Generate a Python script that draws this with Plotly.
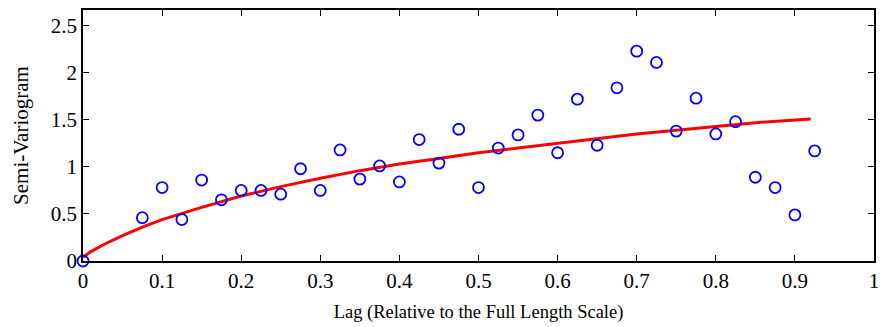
import plotly.graph_objects as go

# Empirical semi-variogram points
lag = [0, 0.075, 0.1, 0.125, 0.15, 0.175, 0.2, 0.225, 0.25, 0.275, 0.3, 0.325,
       0.35, 0.375, 0.4, 0.425, 0.45, 0.475, 0.5, 0.525, 0.55, 0.575, 0.6,
       0.625, 0.65, 0.675, 0.7, 0.725, 0.75, 0.775, 0.8, 0.825, 0.85, 0.875,
       0.9, 0.925]
semivar = [0.0, 0.46, 0.78, 0.44, 0.86, 0.65, 0.75, 0.75, 0.71, 0.98, 0.75, 1.18,
           0.87, 1.01, 0.84, 1.29, 1.04, 1.40, 0.78, 1.20, 1.34, 1.55, 1.15,
           1.72, 1.23, 1.84, 2.23, 2.11, 1.38, 1.73, 1.35, 1.48, 0.89, 0.78,
           0.49, 1.17]

# Fitted model curve
fit_lag = [0, 0.01, 0.025, 0.05, 0.075, 0.1, 0.15, 0.2, 0.25, 0.3, 0.35, 0.4, 0.45,
           0.5, 0.55, 0.6, 0.65, 0.7, 0.75, 0.8, 0.85, 0.92]
fit_val = [0.04, 0.10, 0.17, 0.27, 0.36, 0.44, 0.57, 0.69, 0.79, 0.88, 0.96, 1.03,
           1.09, 1.15, 1.20, 1.25, 1.30, 1.35, 1.39, 1.43, 1.47, 1.51]

x_ticks = [0, 0.1, 0.2, 0.3, 0.4, 0.5, 0.6, 0.7, 0.8, 0.9, 1]
x_ticklabels = ["0", "0.1", "0.2", "0.3", "0.4", "0.5", "0.6", "0.7", "0.8", "0.9", "1"]
y_ticks = [0, 0.5, 1, 1.5, 2, 2.5]
y_ticklabels = ["0", "0.5", "1", "1.5", "2", "2.5"]

font_family = "Liberation Serif"

fig = go.Figure()
fig.add_trace(go.Scatter(
    x=fit_lag, y=fit_val, mode="lines",
    line=dict(color="#ff0000", width=3),
    showlegend=False))
fig.add_trace(go.Scatter(
    x=lag, y=semivar, mode="markers",
    marker=dict(symbol="circle-open", size=11, color="#0000ff",
                line=dict(width=1.8, color="#0000ff")),
    showlegend=False, cliponaxis=False))

axis_common = dict(
    showgrid=False, zeroline=False, showline=True, linecolor="black",
    linewidth=1.5, mirror="ticks", ticks="inside", ticklen=6,
    tickcolor="black", tickwidth=1,
    tickfont=dict(family=font_family, size=21, color="black"),
)

fig.update_xaxes(range=[0, 1], tickvals=x_ticks, ticktext=x_ticklabels,
                 title=dict(text="Lag (Relative to the Full Length Scale)",
                            font=dict(family=font_family, size=18.5, color="black"),
                            standoff=13),
                 **axis_common)
fig.update_yaxes(range=[0, 2.667], tickvals=y_ticks, ticktext=y_ticklabels,
                 title=dict(text="Semi-Variogram",
                            font=dict(family=font_family, size=21, color="black"),
                            standoff=16),
                 **axis_common)

fig.update_layout(
    width=885, height=327,
    margin=dict(l=83, r=6, t=10, b=66),
    paper_bgcolor="white", plot_bgcolor="white",
)

fig.write_html("out.html")
